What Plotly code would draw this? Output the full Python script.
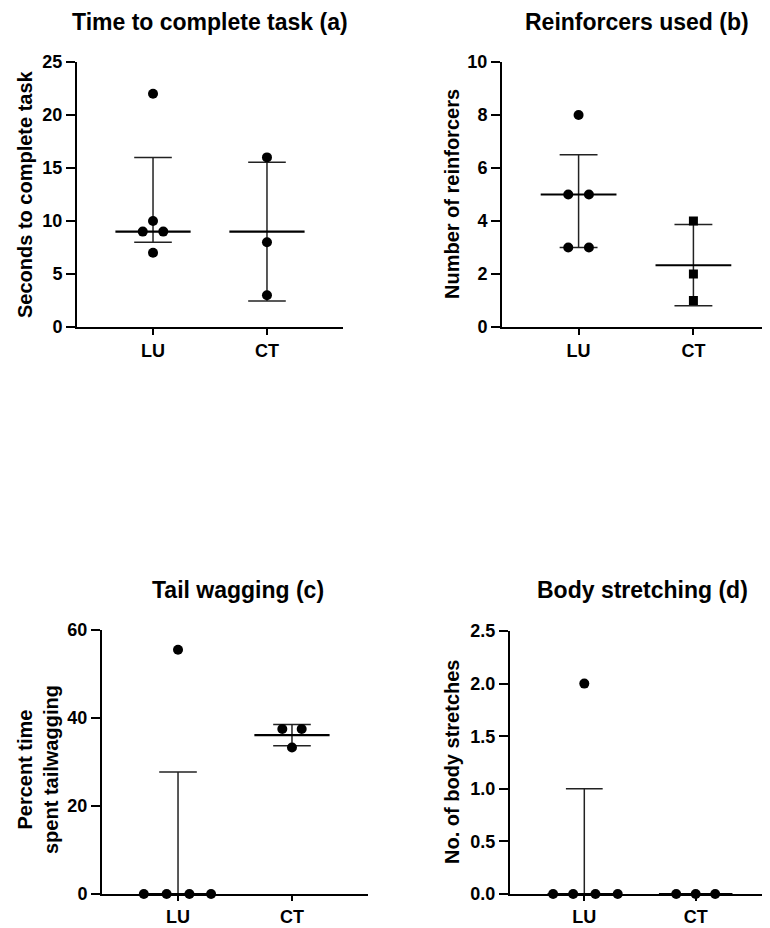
import plotly.graph_objects as go

# the page body has an 8px default margin; the figure fills the rest of the window
PAGE_W, PAGE_H = 770, 928
OFF = 8
W, H = PAGE_W - OFF, PAGE_H - OFF
FONT = "Liberation Sans, Arial, sans-serif"

groups = ["LU", "CT"]

# Panel a: time to complete task
a_LU = [22, 10, 9, 9, 7]
a_CT = [16, 8, 3]
a_center = [9, 9]
a_low = [8, 2.45]
a_high = [16, 15.55]

# Panel b: reinforcers used
b_LU = [8, 5, 5, 3, 3]
b_CT = [4, 2, 1]
b_center = [5, 2.33]
b_low = [3, 0.8]
b_high = [6.5, 3.87]

# Panel c: tail wagging
c_LU = [55.5, 0, 0, 0, 0]
c_CT = [37.5, 37.5, 33.3]
c_center = [0, 36.1]
c_low = [0, 33.7]
c_high = [27.7, 38.5]

# Panel d: body stretching
d_LU = [2, 0, 0, 0, 0]
d_CT = [0, 0, 0]
d_center = [0, 0]
d_low = [0, 0]
d_high = [1, 0]

# horizontal jitter of points (category units)
a_LU_jit = [0, 0, -0.09, 0.09, 0]
a_CT_jit = [0, 0, 0]
b_LU_jit = [0, -0.09, 0.09, -0.09, 0.09]
b_CT_jit = [0, 0, 0]
c_LU_jit = [0, -0.3, -0.1, 0.1, 0.29]
c_CT_jit = [-0.085, 0.085, 0]
d_LU_jit = [0, -0.28, -0.1, 0.1, 0.3]
d_CT_jit = [-0.175, 0, 0.175]

titles = ["Time to complete task (a)", "Reinforcers used (b)",
          "Tail wagging (c)", "Body stretching (d)"]
ytitles = ["Seconds to complete task", "Number of reinforcers",
           "Percent time<br>spent tailwagging", "No. of body stretches"]


def px_x(p):
    return min(1.0, max(0.0, (p - OFF) / W))


def px_y(p):
    return min(1.0, max(0.0, 1 - (p - OFF) / H))


panels = [
    dict(LU=a_LU, CT=a_CT, LUj=a_LU_jit, CTj=a_CT_jit, center=a_center, low=a_low, high=a_high,
         CTsym="circle", xdom=(77, 343), ydom=(62, 327), yrange=[0, 25], dtick=5, fmt="d",
         title_xy=(210, 22), ytitle_xy=(25, 194), xticklen=6),
    dict(LU=b_LU, CT=b_CT, LUj=b_LU_jit, CTj=b_CT_jit, center=b_center, low=b_low, high=b_high,
         CTsym="square", xdom=(502, 770), ydom=(62, 327), yrange=[0, 10], dtick=2, fmt="d",
         title_xy=(637, 22), ytitle_xy=(452, 194), xticklen=6),
    dict(LU=c_LU, CT=c_CT, LUj=c_LU_jit, CTj=c_CT_jit, center=c_center, low=c_low, high=c_high,
         CTsym="circle", xdom=(102, 368), ydom=(630, 894), yrange=[0, 60], dtick=20, fmt="d",
         title_xy=(238, 590), ytitle_xy=(38, 770), xticklen=5),
    dict(LU=d_LU, CT=d_CT, LUj=d_LU_jit, CTj=d_CT_jit, center=d_center, low=d_low, high=d_high,
         CTsym="circle", xdom=(510, 770), ydom=(631, 894), yrange=[0, 2.5], dtick=0.5, fmt=".1f",
         title_xy=(642, 590), ytitle_xy=(452, 762), xticklen=5),
]

fig = go.Figure()
layout = dict(width=W, height=H, margin=dict(l=0, r=0, t=0, b=0, autoexpand=False),
              paper_bgcolor="white", plot_bgcolor="white", showlegend=False,
              annotations=[])

tickfont = dict(family=FONT, size=18, color="black", weight="bold")
MEAN_HALF = 0.33
CAP_HALF = 0.165

for i, p in enumerate(panels):
    n = "" if i == 0 else str(i + 1)
    xa, ya = "x" + n, "y" + n
    # error bars
    ex, ey = [], []
    for g in range(2):
        xc = g + 1
        ex += [xc, xc, None, xc - CAP_HALF, xc + CAP_HALF, None,
               xc - CAP_HALF, xc + CAP_HALF, None]
        ey += [p["low"][g], p["high"][g], None, p["low"][g], p["low"][g], None,
               p["high"][g], p["high"][g], None]
    fig.add_trace(go.Scatter(x=ex, y=ey, mode="lines", line=dict(color="#222", width=1.5),
                             xaxis=xa, yaxis=ya, cliponaxis=False, hoverinfo="skip"))
    # centre line
    mx, my = [], []
    for g in range(2):
        xc = g + 1
        mx += [xc - MEAN_HALF, xc + MEAN_HALF, None]
        my += [p["center"][g], p["center"][g], None]
    fig.add_trace(go.Scatter(x=mx, y=my, mode="lines", line=dict(color="black", width=2.2),
                             xaxis=xa, yaxis=ya, cliponaxis=False, hoverinfo="skip"))
    # points
    fig.add_trace(go.Scatter(x=[1 + j for j in p["LUj"]], y=p["LU"], mode="markers",
                             marker=dict(symbol="circle", size=10, color="black"),
                             xaxis=xa, yaxis=ya, cliponaxis=False))
    fig.add_trace(go.Scatter(x=[2 + j for j in p["CTj"]], y=p["CT"], mode="markers",
                             marker=dict(symbol=p["CTsym"], size=10 if p["CTsym"] == "circle" else 9,
                                         color="black"),
                             xaxis=xa, yaxis=ya, cliponaxis=False))

    x0, x1 = p["xdom"]
    y0, y1 = p["ydom"]
    layout["xaxis" + n] = dict(domain=[px_x(x0), px_x(x1)], anchor=ya, range=[0.333, 2.667],
                               tickvals=[1, 2], ticktext=groups, showline=True, linewidth=2,
                               linecolor="black", ticks="outside", ticklen=p["xticklen"],
                               tickwidth=2, tickcolor="black", showgrid=False, zeroline=False,
                               tickfont=tickfont, fixedrange=True, automargin=False)
    layout["yaxis" + n] = dict(domain=[px_y(y1), px_y(y0)], anchor=xa, range=p["yrange"],
                               dtick=p["dtick"], tick0=0, tickformat=p["fmt"], showline=True,
                               linewidth=2, linecolor="black", ticks="outside", ticklen=9,
                               tickwidth=2, tickcolor="black", showgrid=False, zeroline=False,
                               tickfont=tickfont, fixedrange=True, automargin=False)
    tx, ty = p["title_xy"]
    layout["annotations"].append(dict(text=titles[i], x=px_x(tx), y=px_y(ty), xref="paper",
                                      yref="paper", showarrow=False, xanchor="center",
                                      yanchor="middle",
                                      font=dict(family=FONT, size=23, color="black",
                                                weight="bold")))
    ax, ay = p["ytitle_xy"]
    layout["annotations"].append(dict(text=ytitles[i], x=px_x(ax), y=px_y(ay), xref="paper",
                                      yref="paper", showarrow=False, xanchor="center",
                                      yanchor="middle", textangle=-90,
                                      font=dict(family=FONT, size=20, color="black",
                                                weight="bold")))

fig.update_layout(**layout)
fig.write_html("out.html")
